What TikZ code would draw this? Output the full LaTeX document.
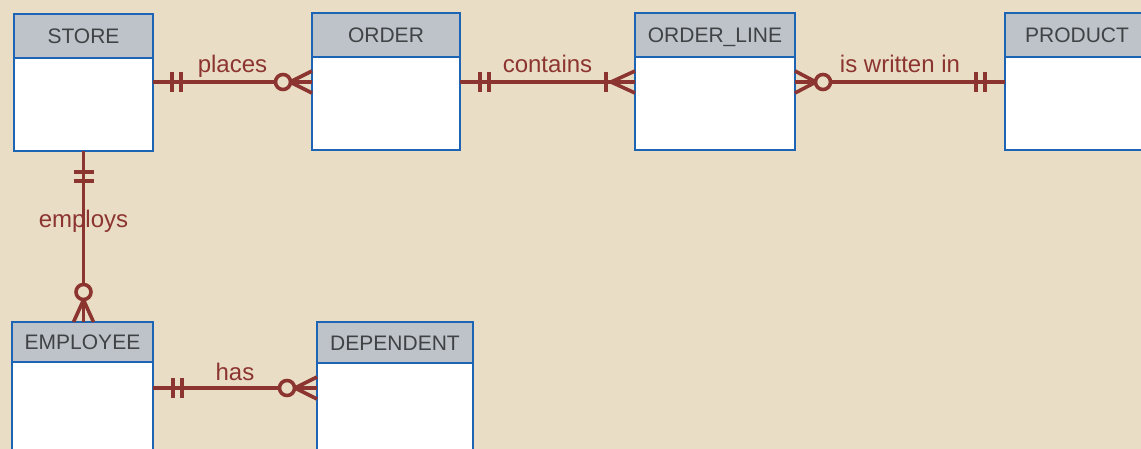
\documentclass[tikz,border=0pt]{standalone}
\usepackage{fontspec}
\setmainfont{Liberation Sans}
\usetikzlibrary{calc}
\definecolor{bg}{HTML}{EADDC6}
\definecolor{relc}{HTML}{8C3530}
\definecolor{ebl}{HTML}{1E64B4}
\definecolor{hgray}{HTML}{BDC3C8}
\definecolor{htext}{HTML}{3F4346}
\begin{document}
\begin{tikzpicture}[x=1pt,y=-1pt,
  hdr/.style={draw=ebl, fill=hgray, line width=2.8pt, inner sep=0pt, outer sep=0pt,
    anchor=north west, text=htext, font=\fontsize{21}{24}\selectfont,
    text height=15pt, text depth=0pt},
  bdy/.style={draw=ebl, fill=white, line width=2.8pt, inner sep=0pt, outer sep=0pt,
    anchor=north west},
  rel/.style={draw=relc, line width=3.6pt},
  lbl/.style={text=relc, font=\fontsize{24}{28}\selectfont, anchor=base, inner sep=0pt}]
\useasboundingbox (0,0) rectangle (1141,449);
\clip (0,0) rectangle (1141,449);
\fill[bg] (0,0) rectangle (1141,449);

% entities
\node[hdr, minimum width=139pt, minimum height=44pt] (storeh) at (14,14) {STORE};
\node[bdy, minimum width=139pt, minimum height=93pt] (store) at (storeh.south west) {};
\node[hdr, minimum width=148pt, minimum height=44pt] (orderh) at (312,13) {ORDER};
\node[bdy, minimum width=148pt, minimum height=93pt] (order) at (orderh.south west) {};
\node[hdr, minimum width=160pt, minimum height=44pt] (olineh) at (635,13) {ORDER\_LINE};
\node[bdy, minimum width=160pt, minimum height=93pt] (oline) at (olineh.south west) {};
\node[hdr, minimum width=144pt, minimum height=44pt] (producth) at (1005,13) {PRODUCT};
\node[bdy, minimum width=144pt, minimum height=93pt] (product) at (producth.south west) {};
\node[hdr, minimum width=141pt, minimum height=40pt] (employeeh) at (12,322) {EMPLOYEE};
\node[bdy, minimum width=141pt, minimum height=110pt] (employee) at (employeeh.south west) {};
\node[hdr, minimum width=156pt, minimum height=41pt] (dependenth) at (317,322) {DEPENDENT};
\node[bdy, minimum width=156pt, minimum height=110pt] (dependent) at (dependenth.south west) {};

% connector end points
\coordinate (a1) at ($(store.north east)+(0,24)$);
\coordinate (a2) at ($(order.north west)+(0,25)$);
\coordinate (b1) at ($(order.north east)+(0,25)$);
\coordinate (b2) at ($(oline.north west)+(0,25)$);
\coordinate (c1) at ($(oline.north east)+(0,25)$);
\coordinate (c2) at ($(product.north west)+(0,25)$);
\coordinate (d1) at (store.south);
\coordinate (d2) at (store.south |- employeeh.north);
\coordinate (e1) at ($(employee.north east)+(0,26)$);
\coordinate (e2) at ($(dependent.north west)+(0,25)$);

% labels
\node[lbl] (lplaces) at ($($(a1)!0.5!(a2)$)+(0,-9)$) {places};
\node[lbl] (lcontains) at ($($(b1)!0.5!(b2)$)+(0,-9)$) {contains};
\node[lbl] (lwritten) at ($($(c1)!0.5!(c2)$)+(0,-9)$) {is written in};
\node[lbl] (lhas) at ($($(e1)!0.5!(e2)$)+(0,-8)$) {has};
\node[lbl] (lemploys) at ($($(d1)!0.5!(d2)$)+(0,-9)$) {employs};

% places: STORE ||----o< ORDER
\draw[rel] (a1) -- (a2);
\draw[rel] ($(a1)+(19,-10)$) -- ($(a1)+(19,10)$);
\draw[rel] ($(a1)+(28,-10)$) -- ($(a1)+(28,10)$);
\draw[rel] ($(a2)+(-22,0)$) -- ($(a2)+(0,-11)$) ($(a2)+(-22,0)$) -- ($(a2)+(0,11)$);
\draw[rel, fill=bg] ($(a2)+(-29,0)$) circle (7.5pt);

% contains: ORDER ||----|< ORDER_LINE
\draw[rel] (b1) -- (b2);
\draw[rel] ($(b1)+(20,-10)$) -- ($(b1)+(20,10)$);
\draw[rel] ($(b1)+(29,-10)$) -- ($(b1)+(29,10)$);
\draw[rel] ($(b2)+(-29,-10)$) -- ($(b2)+(-29,10)$);
\draw[rel] ($(b2)+(-24,0)$) -- ($(b2)+(0,-11)$) ($(b2)+(-24,0)$) -- ($(b2)+(0,11)$);

% is written in: ORDER_LINE >o----|| PRODUCT
\draw[rel] (c1) -- (c2);
\draw[rel] ($(c1)+(21,0)$) -- ($(c1)+(0,-11)$) ($(c1)+(21,0)$) -- ($(c1)+(0,11)$);
\draw[rel, fill=bg] ($(c1)+(28,0)$) circle (7.5pt);
\draw[rel] ($(c2)+(-29,-10)$) -- ($(c2)+(-29,10)$);
\draw[rel] ($(c2)+(-20,-10)$) -- ($(c2)+(-20,10)$);

% employs: STORE ||----o< EMPLOYEE
\draw[rel] (d1) -- (d2);
\draw[rel] ($(d1)+(-10,21)$) -- ($(d1)+(10,21)$);
\draw[rel] ($(d1)+(-10,30)$) -- ($(d1)+(10,30)$);
\draw[rel] ($(d2)+(0,-22)$) -- ($(d2)+(-10,0)$) ($(d2)+(0,-22)$) -- ($(d2)+(10,0)$);
\draw[rel, fill=bg] ($(d2)+(0,-30)$) circle (7.5pt);

% has: EMPLOYEE ||----o< DEPENDENT
\draw[rel] (e1) -- (e2);
\draw[rel] ($(e1)+(20,-10)$) -- ($(e1)+(20,10)$);
\draw[rel] ($(e1)+(29,-10)$) -- ($(e1)+(29,10)$);
\draw[rel] ($(e2)+(-22,0)$) -- ($(e2)+(0,-11)$) ($(e2)+(-22,0)$) -- ($(e2)+(0,11)$);
\draw[rel, fill=bg] ($(e2)+(-30,0)$) circle (7.5pt);
\end{tikzpicture}
\end{document}
